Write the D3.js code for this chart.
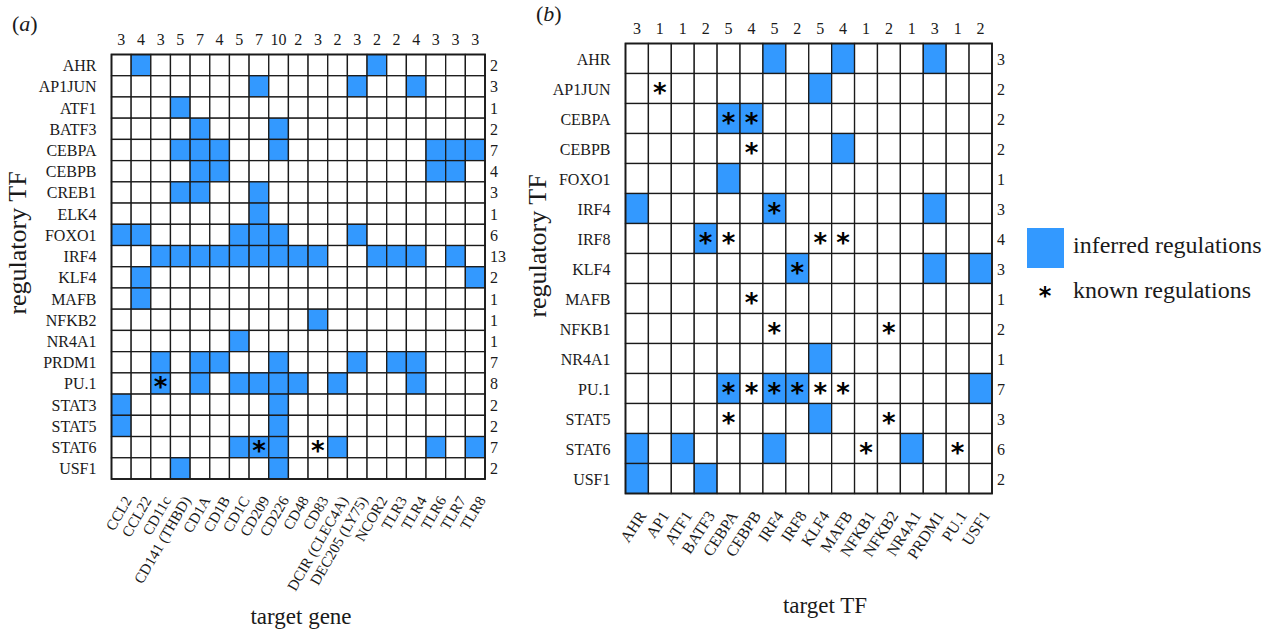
<!DOCTYPE html>
<html>
<head>
<meta charset="utf-8">
<script src="https://d3js.org/d3.v7.min.js"></script>
<style>
  html, body { margin: 0; padding: 0; background: #fff; }
  svg { display: block; font-family: "Liberation Serif", "Times New Roman", serif; }
</style>
</head>
<body>
<svg id="chart" width="1275" height="633"></svg>
<script>
// ---------------- Panel (a) data ----------------
const genesA = ["CCL2","CCL22","CD11c","CD141 (THBD)","CD1A","CD1B","CD1C","CD209","CD226","CD48","CD83","DCIR (CLEC4A)","DEC205 (LY75)","NCOR2","TLR3","TLR4","TLR6","TLR7","TLR8"];
const tfsA = ["AHR","AP1JUN","ATF1","BATF3","CEBPA","CEBPB","CREB1","ELK4","FOXO1","IRF4","KLF4","MAFB","NFKB2","NR4A1","PRDM1","PU.1","STAT3","STAT5","STAT6","USF1"];
const colCountsA = [3,4,3,5,7,4,5,7,10,2,3,2,3,2,2,4,3,3,3];
const rowCountsA = [2,3,1,2,7,4,3,1,6,13,2,1,1,1,7,8,2,2,7,2];
const inferredA = [
  ["AHR",["CCL22","NCOR2"]],
  ["AP1JUN",["CD209","DEC205 (LY75)","TLR4"]],
  ["ATF1",["CD141 (THBD)"]],
  ["BATF3",["CD1A","CD226"]],
  ["CEBPA",["CD141 (THBD)","CD1A","CD1B","CD226","TLR6","TLR7","TLR8"]],
  ["CEBPB",["CD1A","CD1B","TLR6","TLR7"]],
  ["CREB1",["CD141 (THBD)","CD1A","CD209"]],
  ["ELK4",["CD209"]],
  ["FOXO1",["CCL2","CCL22","CD1C","CD209","CD226","DEC205 (LY75)"]],
  ["IRF4",["CD11c","CD141 (THBD)","CD1A","CD1B","CD1C","CD209","CD226","CD48","CD83","NCOR2","TLR3","TLR4","TLR7"]],
  ["KLF4",["CCL22","TLR8"]],
  ["MAFB",["CCL22"]],
  ["NFKB2",["CD83"]],
  ["NR4A1",["CD1C"]],
  ["PRDM1",["CD11c","CD1A","CD1B","CD226","DEC205 (LY75)","TLR3","TLR4"]],
  ["PU.1",["CD11c","CD1A","CD1C","CD209","CD226","CD48","DCIR (CLEC4A)","TLR4"]],
  ["STAT3",["CCL2","CD226"]],
  ["STAT5",["CCL2","CD226"]],
  ["STAT6",["CD1C","CD209","CD226","DCIR (CLEC4A)","TLR6","TLR8"]],
  ["USF1",["CD141 (THBD)","CD226"]]
];
const knownA = [
  ["PU.1",["CD11c"]],
  ["STAT6",["CD209","CD83"]]
];

// ---------------- Panel (b) data ----------------
const targetsB = ["AHR","AP1","ATF1","BATF3","CEBPA","CEBPB","IRF4","IRF8","KLF4","MAFB","NFKB1","NFKB2","NR4A1","PRDM1","PU.1","USF1"];
const tfsB = ["AHR","AP1JUN","CEBPA","CEBPB","FOXO1","IRF4","IRF8","KLF4","MAFB","NFKB1","NR4A1","PU.1","STAT5","STAT6","USF1"];
const colCountsB = [3,1,1,2,5,4,5,2,5,4,1,2,1,3,1,2];
const rowCountsB = [3,2,2,2,1,3,4,3,1,2,1,7,3,6,2];
const inferredB = [
  ["AHR",["IRF4","MAFB","PRDM1"]],
  ["AP1JUN",["KLF4"]],
  ["CEBPA",["CEBPA","CEBPB"]],
  ["CEBPB",["MAFB"]],
  ["FOXO1",["CEBPA"]],
  ["IRF4",["AHR","IRF4","PRDM1"]],
  ["IRF8",["BATF3"]],
  ["KLF4",["IRF8","PRDM1","USF1"]],
  ["NR4A1",["KLF4"]],
  ["PU.1",["CEBPA","IRF4","IRF8","USF1"]],
  ["STAT5",["KLF4"]],
  ["STAT6",["AHR","ATF1","IRF4","NR4A1"]],
  ["USF1",["AHR","BATF3"]]
];
const knownB = [
  ["AP1JUN",["AP1"]],
  ["CEBPA",["CEBPA","CEBPB"]],
  ["CEBPB",["CEBPB"]],
  ["IRF4",["IRF4"]],
  ["IRF8",["BATF3","CEBPA","KLF4","MAFB"]],
  ["KLF4",["IRF8"]],
  ["MAFB",["CEBPB"]],
  ["NFKB1",["IRF4","NFKB2"]],
  ["PU.1",["CEBPA","CEBPB","IRF4","IRF8","KLF4","MAFB"]],
  ["STAT5",["CEBPA","NFKB2"]],
  ["STAT6",["NFKB1","PU.1"]]
];

const legendItems = ["inferred regulations","known regulations"];

// ---------------- drawing ----------------
const BLUE = "#3399ff";
const INK = "#1a1a1a";
const svg = d3.select("#chart");

function flatten(list) {
  const out = [];
  list.forEach(([r, cs]) => cs.forEach(c => out.push({r, c})));
  return out;
}

function panel(opt) {
  const g = svg.append("g");
  const x = d3.scaleBand().domain(opt.cols).range([opt.x0, opt.x1]);
  const y = d3.scaleBand().domain(opt.rows).range([opt.y0, opt.y1]);
  const inf = new Set(flatten(opt.inferred).map(d => d.r + "|" + d.c));

  const cells = [];
  opt.rows.forEach(r => opt.cols.forEach(c => cells.push({r, c})));
  g.selectAll("rect.cell").data(cells).join("rect")
    .attr("class", "cell")
    .attr("x", d => x(d.c)).attr("y", d => y(d.r))
    .attr("width", x.bandwidth()).attr("height", y.bandwidth())
    .attr("fill", d => inf.has(d.r + "|" + d.c) ? BLUE : "#fff")
    .attr("stroke", "#1a1a1a").attr("stroke-width", 1.3);
  g.append("rect").attr("x", opt.x0).attr("y", opt.y0)
    .attr("width", opt.x1 - opt.x0).attr("height", opt.y1 - opt.y0)
    .attr("fill", "none").attr("stroke", "#1a1a1a").attr("stroke-width", 1.8);

  g.selectAll("text.star").data(flatten(opt.known)).join("text")
    .attr("class", "star")
    .attr("x", d => x(d.c) + x.bandwidth() / 2)
    .attr("y", d => y(d.r) + y.bandwidth() / 2 + 13)
    .attr("text-anchor", "middle")
    .attr("font-family", "DejaVu Sans")
    .attr("font-weight", "bold")
    .attr("font-size", 26)
    .attr("fill", "#000")
    .text("*");

  g.selectAll("text.rl").data(opt.rows).join("text")
    .attr("class", "rl")
    .attr("x", opt.x0 - 15).attr("y", d => y(d) + y.bandwidth() / 2 + 6)
    .attr("text-anchor", "end").attr("font-size", 16).attr("fill", INK)
    .text(d => d);
  g.selectAll("text.rc").data(opt.rows).join("text")
    .attr("class", "rc")
    .attr("x", opt.x1 + 5).attr("y", d => y(d) + y.bandwidth() / 2 + 6)
    .attr("font-size", 16).attr("fill", INK)
    .text((d, i) => opt.rowCounts[i]);
  g.selectAll("text.cc").data(opt.cols).join("text")
    .attr("class", "cc")
    .attr("x", d => x(d) + x.bandwidth() / 2).attr("y", opt.topY)
    .attr("text-anchor", "middle").attr("font-size", 16).attr("fill", INK)
    .text((d, i) => opt.colCounts[i]);
  g.selectAll("text.bl").data(opt.cols).join("text")
    .attr("class", "bl")
    .attr("transform", d => `translate(${x(d) + x.bandwidth() / 2 + opt.labDx},${opt.y1 + opt.labDy}) rotate(${opt.angle})`)
    .attr("text-anchor", "end").attr("font-size", opt.labSize).attr("fill", INK)
    .text(d => d);
  g.append("text").attr("x", opt.xTitleX).attr("y", opt.xTitleY)
    .attr("text-anchor", "middle").attr("font-size", 23).attr("fill", INK)
    .text(opt.xTitle);
  g.append("text")
    .attr("transform", `translate(${opt.yTitleX},${opt.yTitleY}) rotate(-90)`)
    .attr("text-anchor", "middle").attr("font-size", 26).attr("fill", INK)
    .text("regulatory TF");
  const tag = g.append("text").attr("x", opt.tagX).attr("y", opt.tagY)
    .attr("font-size", 22).attr("fill", INK);
  tag.append("tspan").text("(");
  tag.append("tspan").attr("font-style", "italic").text(opt.tag);
  tag.append("tspan").text(")");
}

panel({
  cols: genesA, rows: tfsA, inferred: inferredA, known: knownA,
  colCounts: colCountsA, rowCounts: rowCountsA,
  x0: 111.5, x1: 485, y0: 54.5, y1: 479,
  topY: 45, labDx: 11, labDy: 21, angle: -60, labSize: 15,
  xTitle: "target gene", xTitleX: 301, xTitleY: 624,
  yTitleX: 26, yTitleY: 243, tag: "a", tagX: 12, tagY: 31
});

panel({
  cols: targetsB, rows: tfsB, inferred: inferredB, known: knownB,
  colCounts: colCountsB, rowCounts: rowCountsB,
  x0: 625.5, x1: 992, y0: 43.5, y1: 493.5,
  topY: 34, labDx: 10, labDy: 22, angle: -57, labSize: 16,
  xTitle: "target TF", xTitleX: 825, xTitleY: 613,
  yTitleX: 546, yTitleY: 246, tag: "b", tagX: 536, tagY: 21
});

// legend
const lg = svg.append("g");
lg.append("rect").attr("x", 1027).attr("y", 228).attr("width", 37).attr("height", 40).attr("fill", BLUE);
lg.append("text").attr("x", 1045).attr("y", 304).attr("text-anchor", "middle")
  .attr("font-family", "DejaVu Sans").attr("font-weight", "bold").attr("font-size", 24).text("*");
lg.selectAll("text.lt").data(legendItems).join("text")
  .attr("class", "lt")
  .attr("x", 1073).attr("y", (d, i) => 253 + i * 45)
  .attr("font-size", 24).attr("fill", INK)
  .text(d => d);
</script>
</body>
</html>
